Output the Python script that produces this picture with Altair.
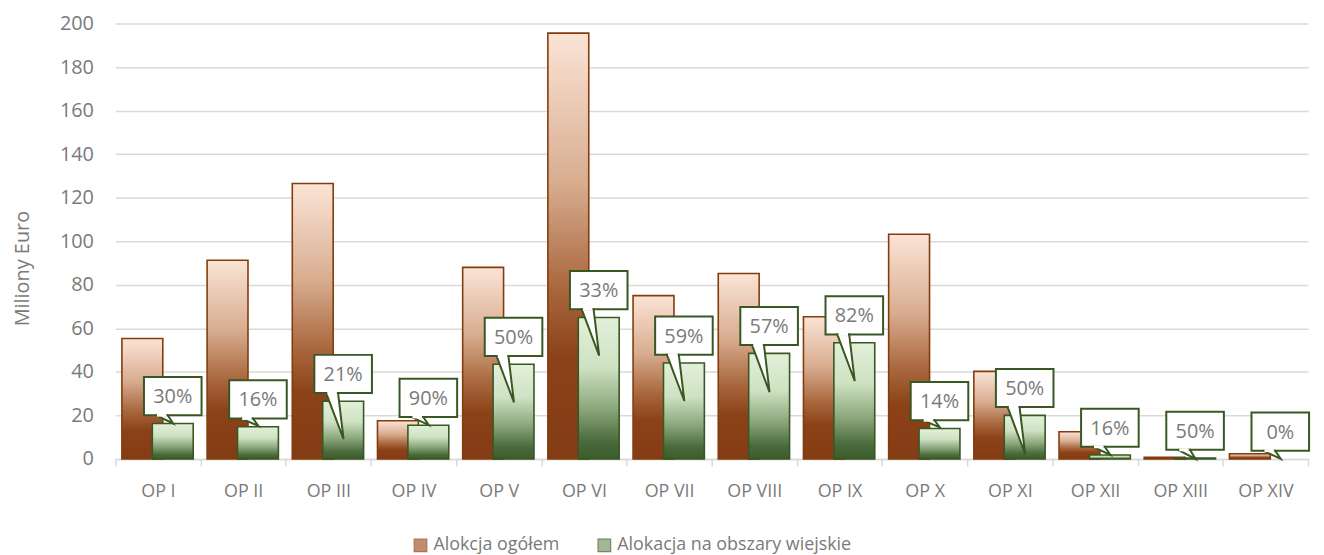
import altair as alt
import pandas as pd

# ---- data ----
cats = ["OP I", "OP II", "OP III", "OP IV", "OP V", "OP VI", "OP VII",
        "OP VIII", "OP IX", "OP X", "OP XI", "OP XII", "OP XIII", "OP XIV"]
total = [55.3, 91.3, 126.5, 17.5, 88.0, 195.6, 75.0, 85.2, 65.3, 103.2, 40.2, 12.5, 0.8, 2.4]
rural = [16.3, 14.8, 26.5, 15.5, 43.5, 65.0, 44.1, 48.5, 53.4, 14.0, 20.0, 1.8, 0.4, 0.0]
shares = ["30%", "16%", "21%", "90%", "50%", "33%", "59%", "57%", "82%",
          "14%", "50%", "16%", "50%", "0%"]
# where each callout pointer ends (value on the y axis)
pointer_to = [16.3, 15.2, 9.1, 15.5, 26.0, 47.5, 26.6, 30.7, 35.8, 14.5, 2.3, 1.9, 0.0, 0.0]
series_names = ["Alokcja ogółem", "Alokacja na obszary wiejskie"]

# ---- styling ----
FONT = "Open Sans"
TXT = "#7a7a7a"
GRID = "#d9d9d9"
BROWN_EDGE = "#843c0c"
GREEN_EDGE = "#385723"
W, H = 1200, 438

BW = 0.48          # bar width, in category widths
OFF_T = -0.183     # brown bar centre offset
OFF_R = 0.174      # green bar centre offset
BOX_HALF = 0.338   # callout half width
BOX_GAP = 3.8      # gap (y units) between green bar top and callout
BOX_H = 17.5       # callout height (y units)

n = len(cats)
idx = list(range(n))

bars_t = pd.DataFrame({
    "cat": cats, "v": total,
    "x0": [i + 0.5 + OFF_T - BW / 2 for i in idx],
    "x1": [i + 0.5 + OFF_T + BW / 2 for i in idx],
})
bars_r = pd.DataFrame({
    "cat": cats, "v": rural,
    "x0": [i + 0.5 + OFF_R - BW / 2 for i in idx],
    "x1": [i + 0.5 + OFF_R + BW / 2 for i in idx],
})

centre = [i + 0.5 + OFF_R for i in idx]
boxes = pd.DataFrame({
    "cat": cats, "label": shares,
    "xc": centre,
    "x0": [c - BOX_HALF for c in centre],
    "x1": [c + BOX_HALF for c in centre],
    "y0": [r + BOX_GAP for r in rural],
    "y1": [r + BOX_GAP + BOX_H for r in rural],
    "ym": [r + BOX_GAP + BOX_H / 2 for r in rural],
})

tail_rows = []
for i, c in enumerate(cats):
    cx = centre[i]
    base = rural[i] + BOX_GAP
    tail_rows.append({"cat": c, "y": base, "xa": cx - 0.20, "xb": cx - 0.06})
    tail_rows.append({"cat": c, "y": pointer_to[i], "xa": cx + 0.005, "xb": cx + 0.005})
tails = pd.DataFrame(tail_rows)
gaps = pd.DataFrame({
    "cat": cats,
    "xa": [c - 0.20 + 0.014 for c in centre],
    "xb": [c - 0.06 - 0.014 for c in centre],
    "y": [r + BOX_GAP for r in rural],
})

brown_grad = alt.Gradient(
    gradient="linear", x1=0, y1=0, x2=0, y2=1,
    stops=[alt.GradientStop(offset=0, color="#fbe4d6"),
           alt.GradientStop(offset=0.35, color="#d8ad90"),
           alt.GradientStop(offset=0.6, color="#a9673d"),
           alt.GradientStop(offset=0.76, color="#8c4219"),
           alt.GradientStop(offset=1, color="#843c14")])
green_grad = alt.Gradient(
    gradient="linear", x1=0, y1=0, x2=0, y2=1,
    stops=[alt.GradientStop(offset=0, color="#e2f0d9"),
           alt.GradientStop(offset=0.35, color="#cfe2c3"),
           alt.GradientStop(offset=0.65, color="#8aa67b"),
           alt.GradientStop(offset=0.88, color="#4a6a3b"),
           alt.GradientStop(offset=1, color="#3d5c2c")])

xq = alt.Scale(domain=[0, n], nice=False, zero=False)
ys = alt.Scale(domain=[0, 200], nice=False)

# axis-only layer (band scale, ticks between categories)
axis_layer = alt.Chart(pd.DataFrame({"cat": cats})).mark_tick(opacity=0).encode(
    x=alt.X("cat:N", sort=cats,
            scale=alt.Scale(type="band", paddingInner=0, paddingOuter=0),
            axis=alt.Axis(title=None, labelAngle=0, tickBand="extent",
                          domainColor=GRID, domainWidth=1.5,
                          tickColor=GRID, tickWidth=1.5, tickSize=7,
                          labelFontSize=18, labelColor=TXT, labelPadding=17,
                          labelFont=FONT, grid=False)),
    y=alt.value(-50),
)

shadow = alt.Chart(bars_t).mark_rect(
    fill="#000000", opacity=0.07, xOffset=3, yOffset=2
).transform_filter("datum.v > 1").encode(
    x=alt.X("x0:Q", scale=xq, axis=None),
    x2="x1:Q",
    y=alt.Y("v:Q", scale=ys),
    y2=alt.datum(0),
)

brown = alt.Chart(bars_t).mark_rect(
    fill=brown_grad, stroke=BROWN_EDGE, strokeWidth=1.6
).transform_filter("datum.v > 0").encode(
    x=alt.X("x0:Q", scale=xq, axis=None),
    x2="x1:Q",
    y=alt.Y("v:Q", scale=ys,
            axis=alt.Axis(values=list(range(0, 201, 20)), grid=True,
                          gridColor=GRID, gridWidth=1.5, domain=False,
                          ticks=False, labelFontSize=20, labelColor=TXT,
                          labelFont=FONT, labelPadding=22,
                          title="Miliony Euro", titleFontSize=20,
                          titleFontWeight="normal", titleColor=TXT,
                          titleFont=FONT, titleX=-93, titleY=246,
                          titleAlign="center", titleBaseline="middle",
                          titleAngle=270)),
    y2=alt.datum(0),
)

green = alt.Chart(bars_r).mark_rect(
    fill=green_grad, stroke=GREEN_EDGE, strokeWidth=1.6
).transform_filter("datum.v > 0").encode(
    x=alt.X("x0:Q", scale=xq, axis=None),
    x2="x1:Q",
    y=alt.Y("v:Q", scale=ys),
    y2=alt.datum(0),
)

box_layer = alt.Chart(boxes).mark_rect(
    fill="white", stroke=GREEN_EDGE, strokeWidth=2
).encode(
    x=alt.X("x0:Q", scale=xq, axis=None), x2="x1:Q",
    y=alt.Y("y0:Q", scale=ys), y2="y1:Q",
)

tail_layer = alt.Chart(tails).mark_area(
    orient="horizontal", fill="white", stroke=GREEN_EDGE, strokeWidth=2,
    interpolate="linear"
).encode(
    y=alt.Y("y:Q", scale=ys),
    x=alt.X("xa:Q", scale=xq, axis=None),
    x2="xb:Q",
    detail="cat:N",
)

gap_layer = alt.Chart(gaps).mark_rule(stroke="white", strokeWidth=3).encode(
    x=alt.X("xa:Q", scale=xq, axis=None), x2="xb:Q",
    y=alt.Y("y:Q", scale=ys),
)

text_layer = alt.Chart(boxes).mark_text(
    fontSize=20, color=TXT, font=FONT, baseline="middle", align="center", dy=1
).encode(
    x=alt.X("xc:Q", scale=xq, axis=None),
    y=alt.Y("ym:Q", scale=ys),
    text="label:N",
)

leg = dict(title=None, orient="none", legendX=298, legendY=516,
           direction="horizontal", symbolType="square",
           symbolSize=160, labelFontSize=18, labelColor=TXT,
           labelFont=FONT, columnPadding=36, labelOffset=4,
           symbolStrokeWidth=1.2, labelLimit=0)
legend_layer = alt.Chart(pd.DataFrame({"s": series_names})).mark_square(
    clip=True, size=150
).encode(
    x=alt.value(-200), y=alt.value(-200),
    fill=alt.Fill("s:N", sort=series_names,
                  scale=alt.Scale(domain=series_names, range=["#a35d34", "#7d9a6c"]),
                  legend=alt.Legend(**leg)),
    stroke=alt.Stroke("s:N", sort=series_names,
                      scale=alt.Scale(domain=series_names, range=[BROWN_EDGE, GREEN_EDGE]),
                      legend=alt.Legend(**leg)),
)

chart = alt.layer(
    axis_layer, shadow, brown, green, box_layer, tail_layer, gap_layer, text_layer, legend_layer
).resolve_scale(x="independent").properties(
    width=W, height=H,
    autosize=alt.AutoSizeParams(type="none"),
    padding={"left": 108, "top": 14, "right": 8, "bottom": 96},
).configure(font=FONT).configure_view(strokeWidth=0, stroke="transparent")

chart.save("out.html", embed_options={"renderer": "svg", "actions": False})
